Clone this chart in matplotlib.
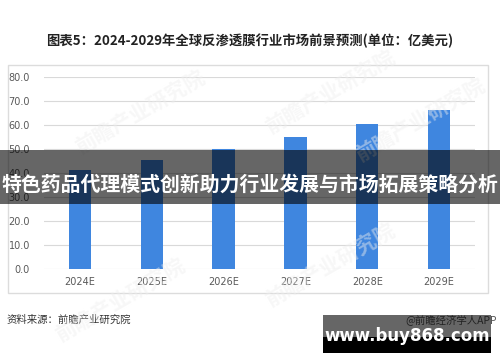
import matplotlib
matplotlib.use("Agg")
import matplotlib.pyplot as plt
from matplotlib.patches import Rectangle

plt.rcParams['font.family'] = ['Noto Sans CJK SC', 'DejaVu Sans']

categories = ["2024E", "2025E", "2026E", "2027E", "2028E", "2029E"]
values = [41.2, 45.4, 50.0, 55.1, 60.5, 66.4]
yticks = [0, 10, 20, 30, 40, 50, 60, 70, 80]

title = "图表5：2024-2029年全球反渗透膜行业市场前景预测(单位：亿美元)"
source = "资料来源：前瞻产业研究院"
credit = "@前瞻经济学人APP"
banner = "特色药品代理模式创新助力行业发展与市场拓展策略分析"
site = "www.buy868.com"
watermark = "前瞻产业研究院"

W, H = 500, 362
fig = plt.figure(figsize=(W / 100, H / 100), dpi=100)
fig.patch.set_facecolor("white")

def fx(px):
    return px / W

def fy(py):
    return 1 - py / H

# outer chart frame
fig.add_artist(Rectangle((fx(8), fy(293)), fx(488) - fx(8), fy(65) - fy(293),
                         transform=fig.transFigure, facecolor="white",
                         edgecolor="#dcdcdc", lw=1.0, zorder=0))

ax = fig.add_axes([fx(44), fy(269), fx(475) - fx(44), fy(77) - fy(269)])
ax.set_facecolor("none")
x = range(len(categories))
ax.bar(x, values, width=0.31, color="#3f86df", zorder=3)
ax.set_xlim(-0.5, len(categories) - 0.5)
ax.set_ylim(0, 80)
ax.set_yticks(yticks)
ax.set_yticklabels([f"{v:.1f}" for v in yticks])
ax.set_xticks(list(x))
ax.set_xticklabels(categories)
ax.tick_params(axis="both", length=0, labelsize=7, labelcolor="#595959")
ax.tick_params(axis="y", pad=10)
ax.tick_params(axis="x", pad=6)
ax.grid(axis="y", color="#d9d9d9", lw=0.8, zorder=0)
for s in ax.spines.values():
    s.set_visible(False)
for lab in ax.get_xticklabels() + ax.get_yticklabels():
    lab.set_family("DejaVu Sans")

# faint watermarks
for (px, py) in [(140, 112), (330, 92), (120, 300), (330, 265), (420, 120)]:
    fig.text(fx(px), fy(py), watermark, rotation=30, fontsize=15, fontweight="bold",
             color="#eeeeee", alpha=0.45, ha="center", va="center", zorder=4)

fig.text(0.5, fy(41), title, ha="center", va="center", fontsize=9.6,
         fontweight="bold", color="#222222")
fig.text(fx(7), fy(320), source, ha="left", va="center", fontsize=7.5, color="#333333")
fig.text(fx(497), fy(320), credit, ha="right", va="center", fontsize=7.5, color="#555555")

# banner overlay
fig.add_artist(Rectangle((0, fy(204)), 1, fy(150) - fy(204), transform=fig.transFigure,
                         facecolor="black", alpha=0.6, lw=0, zorder=10))
fig.text(0.5, fy(184), banner, ha="center", va="center", fontsize=14.3,
         fontweight="bold", color="white", zorder=11)

# bottom-right site box
fig.add_artist(Rectangle((fx(323), fy(337)), fx(491) - fx(323), fy(315) - fy(337),
                         transform=fig.transFigure, facecolor="black", alpha=0.6,
                         lw=0, zorder=10))
fig.add_artist(Rectangle((fx(323), fy(353)), fx(491) - fx(323), fy(337) - fy(353),
                         transform=fig.transFigure, facecolor="black", lw=0, zorder=10))
fig.text(fx(407), fy(336), site, ha="center", va="center", fontsize=12,
         fontweight="bold", color="white", family="DejaVu Sans", zorder=11)

fig.savefig("out.png", dpi=100)
